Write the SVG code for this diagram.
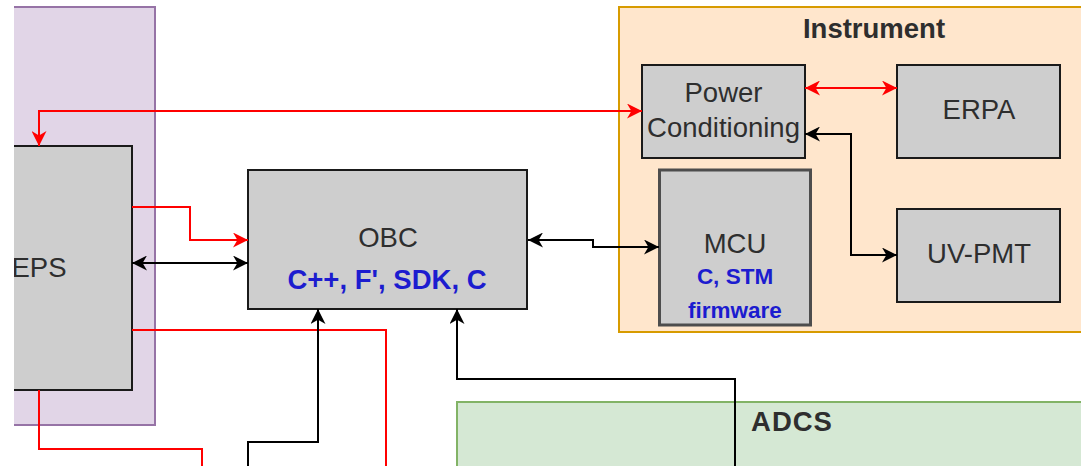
<svg xmlns="http://www.w3.org/2000/svg" width="1081" height="466" viewBox="0 0 1081 466">
<style>
  .box{fill:#cecece;stroke:#1a1a1a;stroke-width:2}
  .t{font-family:"Liberation Sans",Arial,sans-serif;font-size:27.5px;fill:#2e2e2e;text-anchor:middle}
  .b{font-weight:bold}
  .blue{font-family:"Liberation Sans",Arial,sans-serif;font-weight:bold;fill:#1c1ccf;text-anchor:middle}
  .red{fill:none;stroke:#ff0000;stroke-width:2}
  .blk{fill:none;stroke:#000000;stroke-width:2}
</style>
<defs>
  <clipPath id="clip"><rect x="14" y="0" width="1067" height="466"/></clipPath>
  <marker id="ar" viewBox="0 0 12 12" refX="12" refY="6" markerWidth="15" markerHeight="15" markerUnits="userSpaceOnUse" orient="auto-start-reverse">
    <path d="M0,0 L12,6 L0,12 L3.5,6 Z" fill="#ff0000"/>
  </marker>
  <marker id="ab" viewBox="0 0 12 12" refX="12" refY="6" markerWidth="15" markerHeight="15" markerUnits="userSpaceOnUse" orient="auto-start-reverse">
    <path d="M0,0 L12,6 L0,12 L3.5,6 Z" fill="#000000"/>
  </marker>
</defs>
<rect width="1081" height="466" fill="#ffffff"/>
<g clip-path="url(#clip)">
  <g id="power-group">
    <rect x="-40" y="7" width="195" height="418" fill="#e1d5e7" stroke="#9673a6" stroke-width="2"/>
  </g>
  <g id="instrument">
    <rect x="619" y="7" width="510" height="325" fill="#ffe6cc" stroke="#d79b00" stroke-width="2"/>
    <text class="t b" x="874" y="38">Instrument</text>
  </g>
  <g id="adcs">
    <rect x="457" y="402" width="670" height="100" fill="#d5e8d4" stroke="#82b366" stroke-width="2"/>
    <text class="t b" x="792" y="431" letter-spacing="1">ADCS</text>
  </g>
  <g id="eps">
    <rect class="box" x="-54" y="146" width="186" height="244"/>
    <text class="t" x="39" y="277">EPS</text>
  </g>
  <g id="obc">
    <rect class="box" x="248" y="170" width="279" height="139"/>
    <text class="t" x="388" y="247">OBC</text>
    <text class="blue" x="387" y="289" font-size="27.5">C++, F', SDK, C</text>
  </g>
  <g id="power-conditioning">
    <rect class="box" x="642" y="65" width="163" height="93"/>
    <text class="t" x="723.5" y="102">Power</text>
    <text class="t" x="723.5" y="137">Conditioning</text>
  </g>
  <g id="erpa">
    <rect class="box" x="897" y="65" width="163" height="93"/>
    <text class="t" x="979" y="119">ERPA</text>
  </g>
  <g id="mcu">
    <rect x="659.5" y="170" width="151" height="155" fill="#cecece" stroke="#4d4d4d" stroke-width="3"/>
    <text class="t" x="735" y="253">MCU</text>
    <text class="blue" x="735" y="284" font-size="22.5">C, STM</text>
    <text class="blue" x="735" y="318" font-size="22.5">firmware</text>
  </g>
  <g id="uv-pmt">
    <rect class="box" x="897" y="209" width="163" height="93"/>
    <text class="t" x="979" y="263">UV-PMT</text>
  </g>
  <g id="connectors">
    <path class="red" d="M132,330 H386 V466"/>
    <path class="red" d="M39,390 V449 H202 V466"/>
    <path class="red" d="M642,111 H39 V146" marker-start="url(#ar)" marker-end="url(#ar)"/>
    <path class="red" d="M132,207 H190 V240 H248" marker-end="url(#ar)"/>
    <path class="red" d="M805,88 H897" marker-start="url(#ar)" marker-end="url(#ar)"/>
    <path class="blk" d="M132,263 H248" marker-start="url(#ab)" marker-end="url(#ab)"/>
    <path class="blk" d="M248,466 V442 H318 V309" marker-end="url(#ab)"/>
    <path class="blk" d="M735,466 V379 H457 V309" marker-end="url(#ab)"/>
    <path class="blk" d="M528,240 H593 V247 H659" marker-start="url(#ab)" marker-end="url(#ab)"/>
    <path class="blk" d="M805,134 H851 V255 H897" marker-start="url(#ab)" marker-end="url(#ab)"/>
  </g>
</g>
</svg>
